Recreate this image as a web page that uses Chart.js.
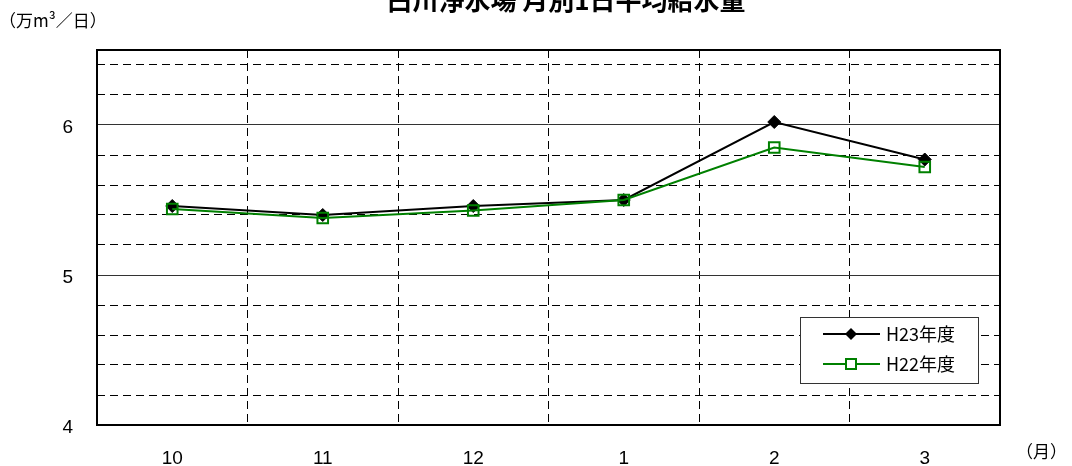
<!DOCTYPE html>
<html>
<head>
<meta charset="utf-8">
<script src="https://cdn.jsdelivr.net/npm/chart.js@4"></script>
<style>
  body { margin: 0; background: #fff; }
  #wrap { width: 1072px; height: 466px; }
</style>
</head>
<body>
<div id="wrap"><canvas id="line"></canvas></div>
<script>
const months = ['10', '11', '12', '1', '2', '3'];
const h23 = [5.46, 5.40, 5.46, 5.50, 6.02, 5.77];
const h22 = [5.44, 5.38, 5.43, 5.50, 5.85, 5.72];
const seriesNames = ['H23年度', 'H22年度'];
const yLabels = [4, 5, 6];

const chartTitle = '白川浄水場 月別1日平均給水量';
const yUnit = '（万m³／日）';
const xUnit = '（月）';

const FONT = "'Liberation Sans', 'Noto Sans CJK JP', sans-serif";
const JP = "'Noto Sans CJK JP', sans-serif";

// frame, title, unit labels and the boxed legend inside the plot
const extras = {
  id: 'extras',
  afterDraw(chart) {
    const ctx = chart.ctx;
    const a = chart.chartArea;
    ctx.save();
    ctx.strokeStyle = '#000';
    ctx.lineWidth = 2;
    ctx.strokeRect(a.left, a.top, a.right - a.left, a.bottom - a.top);

    ctx.fillStyle = '#000';
    ctx.font = 'bold 26px ' + JP;
    ctx.textAlign = 'center';
    ctx.textBaseline = 'middle';
    ctx.fillText(chartTitle, 566, 0);

    ctx.font = '17px ' + JP;
    ctx.textAlign = 'left';
    ctx.fillText(yUnit, -1, 21);
    ctx.fillText(xUnit, 1016, 452);

    // legend box
    const bx = 800, by = 317, bw = 178, bh = 66;
    ctx.fillStyle = '#fff';
    ctx.fillRect(bx, by, bw, bh);
    ctx.strokeStyle = '#333';
    ctx.lineWidth = 1;
    ctx.strokeRect(bx + 0.5, by + 0.5, bw, bh);
    chart.data.datasets.forEach(function (ds, i) {
      const y = by + 17 + i * 30;
      ctx.strokeStyle = ds.borderColor;
      ctx.lineWidth = 2;
      ctx.beginPath();
      ctx.moveTo(823, y);
      ctx.lineTo(880, y);
      ctx.stroke();
      const cx = 851;
      if (ds.pointStyle === 'rectRot') {
        ctx.fillStyle = ds.pointBackgroundColor;
        ctx.beginPath();
        ctx.moveTo(cx, y - 6);
        ctx.lineTo(cx + 6, y);
        ctx.lineTo(cx, y + 6);
        ctx.lineTo(cx - 6, y);
        ctx.closePath();
        ctx.fill();
      } else {
        ctx.fillStyle = '#fff';
        ctx.fillRect(cx - 5, y - 5, 10, 10);
        ctx.strokeStyle = ds.pointBorderColor;
        ctx.strokeRect(cx - 5, y - 5, 10, 10);
      }
      ctx.fillStyle = '#000';
      ctx.font = '18px ' + JP;
      ctx.textBaseline = 'middle';
      ctx.fillText(ds.label, 886, y);
    });
    ctx.restore();
  }
};

const data = {
  labels: months,
  datasets: [{
    label: seriesNames[0],
    data: h23,
    borderColor: '#000',
    borderWidth: 2,
    pointStyle: 'rectRot',
    pointRadius: 6.5,
    pointBackgroundColor: '#000',
    pointBorderColor: '#000',
    pointBorderWidth: 1,
    order: 1
  }, {
    label: seriesNames[1],
    data: h22,
    borderColor: '#008000',
    borderWidth: 2,
    pointStyle: 'rect',
    pointRadius: 7.5,
    pointBackgroundColor: 'rgba(0,0,0,0)',
    pointBorderColor: '#008000',
    pointBorderWidth: 2,
    order: 0
  }]
};

const line = {
  type: 'line',
  data: data,
  options: {
    responsive: true,
    maintainAspectRatio: false,
    animation: false,
    events: [],
    layout: { padding: { top: 50, right: 72, left: 0, bottom: 0 } },
    plugins: {
      legend: { display: false },
      tooltip: { enabled: false }
    },
    scales: {
      x: {
        offset: true,
        afterFit: function (s) { s.height = 41; },
        border: { display: false, dash: [8, 5] },
        grid: { offset: true, color: '#000', lineWidth: 1, drawTicks: false },
        ticks: { color: '#000', padding: 22, font: { family: FONT, size: 19 } }
      },
      y: {
        min: 4,
        max: 6.5,
        afterFit: function (s) { s.width = 97; },
        border: {
          display: false,
          dash: function (c) {
            return yLabels.includes(Math.round(c.tick.value * 10) / 10) ? [] : [8, 5];
          }
        },
        grid: {
          drawTicks: false,
          lineWidth: 1,
          color: function (c) {
            return yLabels.includes(Math.round(c.tick.value * 10) / 10) ? '#333' : '#000';
          }
        },
        ticks: {
          stepSize: 0.2,
          includeBounds: false,
          color: '#000',
          padding: 24,
          labelOffset: 3,
          font: { family: FONT, size: 19 },
          callback: function (v) {
            const r = Math.round(v * 10) / 10;
            return yLabels.includes(r) ? String(r) : '';
          }
        }
      }
    }
  },
  plugins: [extras]
};

const chart = new Chart(document.getElementById('line'), line);
</script>
</body>
</html>
